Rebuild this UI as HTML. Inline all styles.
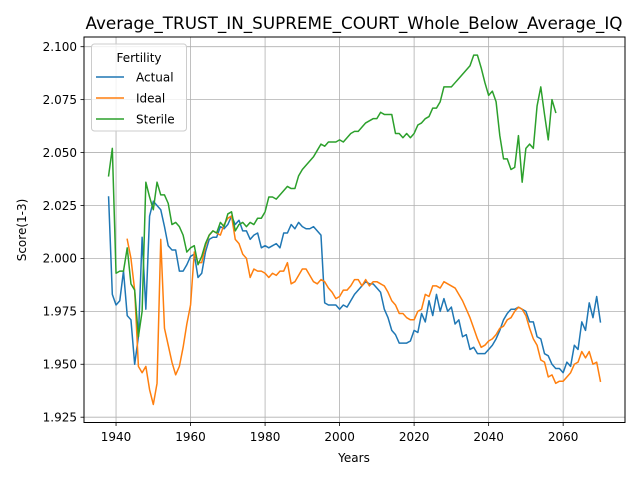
<!DOCTYPE html>
<html><head><meta charset="utf-8"><style>
body{margin:0;background:#fff;}
svg{display:block;font-family:"DejaVu Sans","Liberation Sans",sans-serif;}
</style></head><body>
<svg id="chart" width="640" height="480" viewBox="0 0 640 480">
<rect width="640" height="480" fill="#fff"/>
<text x="354" y="29" font-size="16.8" text-anchor="middle">Average_TRUST_IN_SUPREME_COURT_Whole_Below_Average_IQ</text>
<g id="grid"></g>
<g id="series"></g>
<rect x="84" y="37" width="541" height="385.5" fill="none" stroke="#000" stroke-width="1"/>
<g id="axes"></g>
<text x="354" y="462" font-size="12" text-anchor="middle">Years</text>
<text x="0" y="0" font-size="12" text-anchor="middle" transform="translate(26,230) rotate(-90)">Score(1-3)</text>
<g>
<rect x="91.5" y="44" width="95" height="87" rx="3" fill="#fff" fill-opacity="0.8" stroke="#ccc"/>
<text x="139" y="62" font-size="12" text-anchor="middle">Fertility</text>
<line x1="96" y1="77" x2="124" y2="77" stroke="#1f77b4" stroke-width="1.5"/>
<text x="136" y="81.5" font-size="12">Actual</text>
<line x1="96" y1="98" x2="124" y2="98" stroke="#ff7f0e" stroke-width="1.5"/>
<text x="136" y="102.5" font-size="12">Ideal</text>
<line x1="96" y1="119" x2="124" y2="119" stroke="#2ca02c" stroke-width="1.5"/>
<text x="136" y="123.5" font-size="12">Sterile</text>
</g>
</svg>
<script>
const xTicks=[1940,1960,1980,2000,2020,2040,2060];
const yTicks=[1.925,1.950,1.975,2.000,2.025,2.050,2.075,2.100];
const yTickLabels=["1.925","1.950","1.975","2.000","2.025","2.050","2.075","2.100"];
const actualStart=1938;
const actualValues=[2.029,1.983,1.978,1.980,1.994,1.973,1.971,1.950,1.963,2.010,1.976,2.020,2.027,2.025,2.023,2.015,2.006,2.004,2.004,1.994,1.994,1.997,2.001,2.002,1.991,1.993,2.003,2.009,2.010,2.010,2.015,2.014,2.016,2.020,2.016,2.018,2.013,2.013,2.009,2.011,2.012,2.005,2.006,2.005,2.006,2.007,2.005,2.012,2.012,2.016,2.014,2.017,2.015,2.014,2.014,2.015,2.013,2.011,1.979,1.978,1.978,1.978,1.976,1.978,1.977,1.980,1.983,1.985,1.987,1.989,1.988,1.988,1.986,1.984,1.976,1.972,1.966,1.964,1.960,1.960,1.960,1.961,1.966,1.965,1.974,1.970,1.980,1.973,1.983,1.975,1.981,1.975,1.977,1.969,1.971,1.963,1.964,1.957,1.958,1.955,1.955,1.955,1.957,1.959,1.962,1.966,1.971,1.974,1.976,1.976,1.977,1.976,1.975,1.970,1.970,1.963,1.962,1.955,1.954,1.950,1.948,1.948,1.946,1.951,1.949,1.959,1.957,1.970,1.966,1.979,1.972,1.982,1.970];
const idealStart=1943;
const idealValues=[2.009,2.000,1.985,1.949,1.946,1.949,1.938,1.931,1.941,2.009,1.967,1.959,1.951,1.945,1.949,1.958,1.969,1.978,2.003,1.998,1.998,2.006,2.011,2.013,2.012,2.011,2.016,2.019,2.020,2.009,2.007,2.002,2.000,1.991,1.995,1.994,1.994,1.993,1.991,1.993,1.992,1.994,1.994,1.998,1.988,1.989,1.992,1.995,1.995,1.992,1.989,1.988,1.990,1.989,1.986,1.984,1.981,1.982,1.985,1.985,1.987,1.990,1.990,1.987,1.990,1.987,1.989,1.989,1.988,1.987,1.984,1.980,1.978,1.974,1.974,1.972,1.971,1.971,1.975,1.976,1.983,1.982,1.987,1.987,1.986,1.989,1.988,1.987,1.986,1.983,1.980,1.976,1.972,1.967,1.962,1.958,1.959,1.961,1.962,1.964,1.967,1.968,1.971,1.972,1.975,1.977,1.976,1.973,1.967,1.962,1.959,1.952,1.951,1.944,1.945,1.941,1.942,1.942,1.944,1.946,1.950,1.951,1.956,1.953,1.956,1.950,1.951,1.942];
const sterileStart=1938;
const sterileValues=[2.039,2.052,1.993,1.994,1.994,2.005,1.988,1.985,1.963,1.975,2.036,2.029,2.023,2.036,2.030,2.030,2.026,2.016,2.017,2.015,2.011,2.003,2.005,2.006,1.997,2.001,2.007,2.011,2.013,2.012,2.017,2.015,2.021,2.022,2.013,2.016,2.017,2.015,2.017,2.016,2.019,2.019,2.022,2.029,2.029,2.028,2.030,2.032,2.034,2.033,2.033,2.039,2.042,2.044,2.046,2.048,2.051,2.054,2.053,2.055,2.055,2.055,2.056,2.055,2.057,2.059,2.060,2.060,2.062,2.064,2.065,2.066,2.066,2.069,2.068,2.068,2.068,2.059,2.059,2.057,2.059,2.057,2.059,2.063,2.064,2.066,2.067,2.071,2.071,2.074,2.081,2.081,2.081,2.083,2.085,2.087,2.089,2.091,2.096,2.096,2.090,2.083,2.077,2.079,2.074,2.058,2.047,2.047,2.042,2.043,2.058,2.036,2.052,2.054,2.052,2.072,2.081,2.068,2.056,2.075,2.069];

const NS="http://www.w3.org/2000/svg";
const X0=84,X1=625,XMIN=1931.4,XMAX=2076.6;
function xs(v){return X0+(v-XMIN)/(XMAX-XMIN)*(X1-X0);}
function ys(v){return 46.7+(2.1-v)*2117.1;}
const grid=document.getElementById('grid'),axes=document.getElementById('axes'),ser=document.getElementById('series');
function mk(tag,attrs,parent){const e=document.createElementNS(NS,tag);for(const k in attrs)e.setAttribute(k,attrs[k]);parent.appendChild(e);return e;}
xTicks.forEach(t=>{
  const x=xs(t);
  const g=mk('line',{x1:x,x2:x,y1:37,y2:422.5,stroke:'#b0b0b0','stroke-width':0.8},grid);
  
  
  const tk=mk('line',{x1:x,x2:x,y1:422.5,y2:426,stroke:'#000','stroke-width':0.8},axes);
  
  
  const tx=mk('text',{x:x,y:441,'font-size':12,'text-anchor':'middle'},axes);
  tx.textContent=t;
  
  
});
yTicks.forEach((t,i)=>{
  const y=ys(t);
  const g=mk('line',{x1:X0,x2:X1,y1:y,y2:y,stroke:'#b0b0b0','stroke-width':0.8},grid);
  
  
  const tk=mk('line',{x1:80.5,x2:84,y1:y,y2:y,stroke:'#000','stroke-width':0.8},axes);
  
  
  const tx=mk('text',{x:77,y:y+4.3,'font-size':12,'text-anchor':'end'},axes);
  tx.textContent=yTickLabels[i];
  
  
});
function line(start,vals,color,name){
  const pts=vals.map((v,i)=>xs(start+i).toFixed(2)+','+ys(v).toFixed(2)).join(' ');
  const p=mk('polyline',{points:pts,fill:'none',stroke:color,'stroke-width':1.5,'stroke-linejoin':'round','stroke-linecap':'square'},ser);
  
  
}
line(actualStart,actualValues,'#1f77b4','series-actual');
line(idealStart,idealValues,'#ff7f0e','series-ideal');
line(sterileStart,sterileValues,'#2ca02c','series-sterile');
</script>
</body></html>
